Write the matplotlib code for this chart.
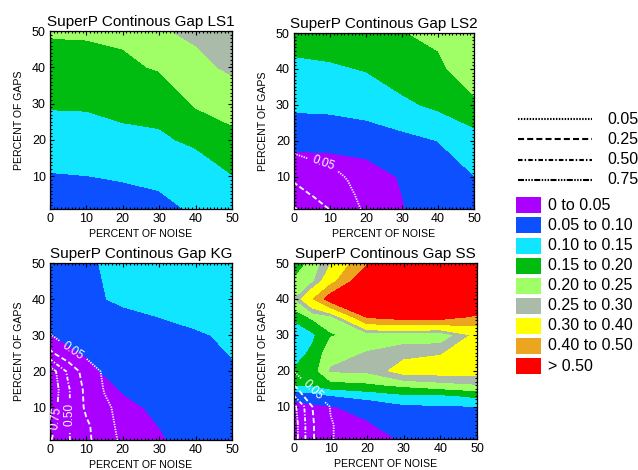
import matplotlib
matplotlib.use('Agg')
import matplotlib.pyplot as plt
import numpy as np
from matplotlib.patches import Rectangle
from matplotlib.ticker import MultipleLocator

plt.rcParams['font.family'] = ['Liberation Sans', 'DejaVu Sans']

# ---------------- data ----------------
x_ticks = [0, 10, 20, 30, 40, 50]
y_ticks = [10, 20, 30, 40, 50]

band_levels = [-1.0, 0.05, 0.10, 0.15, 0.20, 0.25, 0.30, 0.40, 0.50, 10.0]
band_labels = ['0 to 0.05', '0.05 to 0.10', '0.10 to 0.15', '0.15 to 0.20',
               '0.20 to 0.25', '0.25 to 0.30', '0.30 to 0.40', '0.40 to 0.50',
               '> 0.50']
line_levels = [0.05, 0.25, 0.50, 0.75]
line_labels = ['0.05', '0.25', '0.50', '0.75']

# panel LS1 (rows = gaps, columns = noise)
ls1_noise = [0, 10, 20, 30, 40, 50]
ls1_gaps = [1, 10, 20, 30, 40, 50]
ls1_vals = [
    [0.080, 0.080, 0.085, 0.090, 0.105, 0.120],
    [0.097, 0.0995, 0.103, 0.108, 0.130, 0.148],
    [0.125, 0.127, 0.140, 0.145, 0.156, 0.190],
    [0.155, 0.156, 0.161, 0.161, 0.206, 0.215],
    [0.180, 0.182, 0.190, 0.205, 0.235, 0.260],
    [0.205, 0.206, 0.210, 0.245, 0.260, 0.290],
]

# panel LS2
ls2_noise = [0, 10, 20, 30, 40, 50]
ls2_gaps = [1, 10, 20, 30, 40, 50]
ls2_vals = [
    [0.010, 0.012, 0.020, 0.048, 0.070, 0.085],
    [0.026, 0.028, 0.035, 0.0526, 0.080, 0.099],
    [0.060, 0.061, 0.065, 0.085, 0.1005, 0.130],
    [0.1106, 0.1135, 0.126, 0.140, 0.160, 0.185],
    [0.140, 0.145, 0.152, 0.175, 0.185, 0.245],
    [0.169, 0.170, 0.180, 0.197, 0.215, 0.240],
]
ls2_line_noise = [0, 5, 10, 15, 20]
ls2_line_gaps = [1, 5, 10, 15, 20]
ls2_line_vals = [
    [0.52, 0.40, 0.24, 0.12, 0.02],
    [0.35, 0.24, 0.16, 0.08, 0.00],
    [0.20, 0.14, 0.09, 0.04, 0.00],
    [0.07, 0.045, 0.03, 0.00, 0.00],
    [0.00, 0.00, 0.00, 0.00, 0.00],
]

# panel KG
kg_noise = [0, 10, 20, 30, 40, 50]
kg_gaps = [1, 10, 20, 30, 40, 50]
kg_vals = [
    [0.000, 0.015, 0.030, 0.045, 0.0688, 0.080],
    [0.010, 0.025, 0.040, 0.0575, 0.075, 0.088],
    [0.025, 0.040, 0.0663, 0.070, 0.085, 0.096],
    [0.049, 0.065, 0.070, 0.085, 0.095, 0.107],
    [0.070, 0.090, 0.108, 0.115, 0.125, 0.130],
    [0.085, 0.095, 0.110, 0.125, 0.130, 0.135],
]
kg_line_noise = [0, 5, 10, 15, 20, 25]
kg_line_gaps = [1, 5, 10, 15, 20, 25, 30, 35]
kg_line_vals = [
    [0.77, 0.52, 0.30, 0.12, 0.02, 0.0],
    [0.85, 0.52, 0.29, 0.10, 0.01, 0.0],
    [0.90, 0.53, 0.20, 0.08, 0.00, 0.0],
    [0.95, 0.53, 0.18, 0.04, 0.00, 0.0],
    [0.90, 0.45, 0.12, 0.03, 0.00, 0.0],
    [0.30, 0.07, 0.02, 0.00, 0.00, 0.0],
    [0.055, 0.01, 0.00, 0.00, 0.00, 0.0],
    [0.00, 0.00, 0.00, 0.00, 0.00, 0.0],
]

# panel SS
ss_noise = [0, 5, 10, 20, 30, 40, 50]
ss_gaps = [1, 5, 10, 13, 16, 20, 25, 30, 35, 40, 45, 50]
ss_vals = [
    [0.010, 0.015, 0.020, 0.030, 0.055, 0.060, 0.060],
    [0.015, 0.020, 0.025, 0.047, 0.065, 0.070, 0.070],
    [0.035, 0.040, 0.048, 0.060, 0.090, 0.095, 0.098],
    [0.065, 0.080, 0.098, 0.120, 0.140, 0.140, 0.160],
    [0.149, 0.155, 0.180, 0.190, 0.210, 0.230, 0.245],
    [0.155, 0.175, 0.255, 0.260, 0.330, 0.330, 0.330],
    [0.125, 0.160, 0.230, 0.252, 0.280, 0.295, 0.340],
    [0.090, 0.140, 0.195, 0.220, 0.215, 0.205, 0.320],
    [0.170, 0.210, 0.230, 0.510, 0.550, 0.550, 0.480],
    [0.245, 0.390, 0.560, 0.750, 0.750, 0.750, 0.700],
    [0.205, 0.235, 0.360, 0.600, 0.650, 0.650, 0.650],
    [0.170, 0.215, 0.295, 0.490, 0.490, 0.490, 0.550],
]
ss_line_noise = [0, 5, 10, 15]
ss_line_gaps = [1, 5, 10, 15, 20]
ss_line_vals = [
    [0.88, 0.27, 0.06, 0.0],
    [0.88, 0.27, 0.06, 0.0],
    [0.82, 0.251, 0.04, 0.0],
    [0.30, 0.04, 0.00, 0.0],
    [0.04, 0.00, 0.00, 0.0],
]

# ---------------- style ----------------
band_colors = ['#aa00ff', '#0d50ff', '#10e6ff', '#00bb10', '#a0ff66',
               '#aabbaa', '#ffff00', '#eba51e', '#ff0000']
line_styles = [(0, (0.7, 0.7)), (0, (2.9, 1.5)), (0, (2.2, 1.0, 0.7, 1.0)),
               (0, (2.9, 0.7, 0.7, 0.7, 0.7, 0.7, 0.7, 0.7))]

W, H = 638, 470
fig = plt.figure(figsize=(W / 100, H / 100), dpi=100)


def px_rect(left, right, top, bottom):
    return [left / W, 1 - bottom / H, (right - left) / W, (bottom - top) / H]


def panel(rect, title, nx, gy, vals, lx=None, ly=None, lv=None, spots=()):
    ax = fig.add_axes(rect)
    ax.contourf(nx, gy, np.array(vals), levels=band_levels, colors=band_colors)
    if lv is not None:
        cs = ax.contour(lx, ly, np.array(lv), levels=line_levels, colors='white',
                        linewidths=1.3, linestyles=line_styles)
        if spots:
            ax.clabel(cs, levels=line_levels, manual=list(spots), inline=True,
                      fmt='%.2f', fontsize=8.5, colors='white')
    ax.set_xlim(0, 50)
    ax.set_ylim(1, 50)
    ax.set_xticks(x_ticks)
    ax.set_yticks(y_ticks)
    ax.xaxis.set_minor_locator(MultipleLocator(1))
    ax.yaxis.set_minor_locator(MultipleLocator(1))
    ax.tick_params(which='both', direction='in', top=True, right=True,
                   labelsize=9, pad=3, width=0.8)
    ax.tick_params(which='major', length=3)
    ax.tick_params(which='minor', length=1.5)
    ax.set_xlabel('PERCENT OF NOISE', fontsize=7.6, labelpad=2.5)
    ax.set_ylabel('PERCENT OF GAPS', fontsize=7.6, labelpad=5.5)
    ax.set_title(title, fontsize=11, pad=3.5)
    for s in ax.spines.values():
        s.set_linewidth(0.9)
    return ax


panel(px_rect(50, 232, 31, 209), 'SuperP Continous Gap LS1', ls1_noise, ls1_gaps, ls1_vals)
panel(px_rect(294, 474, 33, 209), 'SuperP Continous Gap LS2', ls2_noise, ls2_gaps, ls2_vals,
      ls2_line_noise, ls2_line_gaps, ls2_line_vals, spots=[(8, 13.5)])
panel(px_rect(50, 232, 263, 440), 'SuperP Continous Gap KG', kg_noise, kg_gaps, kg_vals,
      kg_line_noise, kg_line_gaps, kg_line_vals,
      spots=[(6, 25.5), (5.4, 8), (1.4, 7)])
panel(px_rect(294, 477, 263, 439), 'SuperP Continous Gap SS', ss_noise, ss_gaps, ss_vals,
      ss_line_noise, ss_line_gaps, ss_line_vals, spots=[(5, 14.5)])

# ---------------- legend (figure pixel space) ----------------
lg = fig.add_axes([0, 0, 1, 1])
lg.set_xlim(0, W)
lg.set_ylim(H, 0)
lg.axis('off')
for i, (lab, ls) in enumerate(zip(line_labels, line_styles)):
    yy = 119 + i * 20.3
    lg.plot([518, 592], [yy, yy], color='black', lw=1.5, linestyle=ls)
    lg.text(607, yy, lab, va='center', ha='left', fontsize=11.5)
for i, (lab, col) in enumerate(zip(band_labels, band_colors)):
    y0 = 197.3 + i * 20.1
    lg.add_patch(Rectangle((516, y0), 25, 16, facecolor=col, edgecolor='none'))
    lg.text(548, y0 + 8, lab, va='center', ha='left', fontsize=11.5)

fig.savefig('out.png', dpi=100)
